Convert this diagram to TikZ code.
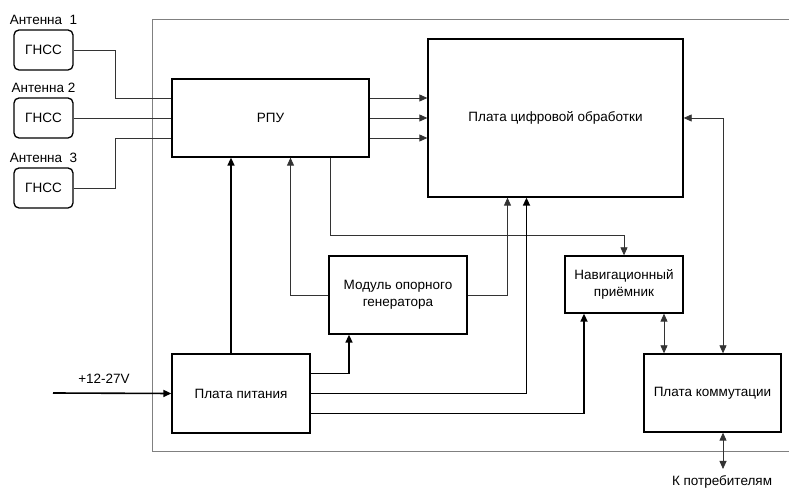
\documentclass[tikz,border=0pt]{standalone}
\usepackage{fontspec}
\setmainfont{Liberation Sans}
\usetikzlibrary{arrows.meta,positioning}

\begin{document}
\begin{tikzpicture}[x=1pt,y=1pt,font=\fontsize{13.5}{16.5}\selectfont,
    blok/.style={draw,line width=1.3pt,inner sep=0pt,align=center},
    gnss/.style={blok,rounded corners=5pt,minimum width=59pt,minimum height=40pt},
    sig/.style={line width=0.8pt,draw=black!80},
    pow/.style={line width=1.6pt},
    arr/.style={-{Triangle[length=8pt,width=7pt]}},
    darr/.style={{Triangle[length=8pt,width=7pt]}-{Triangle[length=8pt,width=7pt]}}]
    \useasboundingbox (0,0) rectangle (789,489);
    % device housing
    \draw[gray,line width=1pt] (789,469) -- (152,469) -- (152,37) -- (789,37);
    % antennas
    \node[gnss] (gnss1) at (43.5,439) {ГНСС};
    \node[gnss] (gnss2) at (43.5,371) {ГНСС};
    \node[gnss] (gnss3) at (43.5,301) {ГНСС};
    \node (ant1) [above=1pt of gnss1] {Антенна~~1};
    \node (ant2) [above=1pt of gnss2] {Антенна 2};
    \node (ant3) [above=1pt of gnss3] {Антенна~~3};
    % blocks
    \node[blok,minimum width=197pt,minimum height=78pt] (rpu) at (270.5,371) {РПУ};
    \node[blok,minimum width=255pt,minimum height=158pt] (dsp) at (555.5,371) {Плата цифровой обработки};
    \node[blok,minimum width=138pt,minimum height=78pt] (gen) at (398,194) {Модуль опорного\\генератора};
    \node[blok,minimum width=118pt,minimum height=57pt] (nav) at (624,204.5) {Навигационный\\приёмник};
    \node[blok,minimum width=137pt,minimum height=78pt] (comm) at (712.5,96) {Плата коммутации};
    \node[blok,minimum width=138pt,minimum height=79pt] (pwr) at (241,95.5) {Плата питания};
    \node (vlab) at (104,110) {+12-27V};
    \node (conslab) at (722,7) {К потребителям};
    \coordinate (vin) at (53,96);
    \coordinate (cons) at (723,20);
    % antenna feeds
    \draw[sig] (gnss1.east) -- ++(42,0) |- ([yshift=20pt]rpu.west);
    \draw[sig] (gnss2.east) -- (rpu.west);
    \draw[sig] (gnss3.east) -- ++(42,0) |- ([yshift=-20pt]rpu.west);
    \foreach \dy in {20,0,-20}
        \draw[sig,arr] ([yshift=\dy pt]rpu.east) -- ([yshift=\dy pt]dsp.west);
    % signals
    \draw[sig,arr] (gen.west) -| ([xshift=20pt]rpu.south);
    \draw[sig,arr] ([xshift=60pt]rpu.south) |- ([yshift=20pt]nav.north) -- (nav.north);
    \draw[sig,arr] (gen.east) -| ([xshift=-48pt]dsp.south);
    \draw[sig,darr] (dsp.east) -| ([xshift=10.5pt]comm.north);
    \draw[sig,darr] ([xshift=40pt]nav.south) -- ([xshift=40pt]nav.south |- comm.north);
    \draw[sig,darr] ([xshift=10.5pt]comm.south) -- (cons);
    % power
    \draw[pow,arr] (vin) -- (pwr.west);
    \draw[pow,arr] ([xshift=-10pt]pwr.north) -- ([xshift=-10pt]pwr.north |- rpu.south);
    \draw[pow,arr] ([yshift=20pt]pwr.east) -| ([xshift=-49pt]gen.south);
    \draw[pow,arr] (pwr.east) -| ([xshift=-29pt]dsp.south);
    \draw[pow,arr] ([yshift=-20pt]pwr.east) -| ([xshift=-40pt]nav.south);
\end{tikzpicture}
\end{document}
